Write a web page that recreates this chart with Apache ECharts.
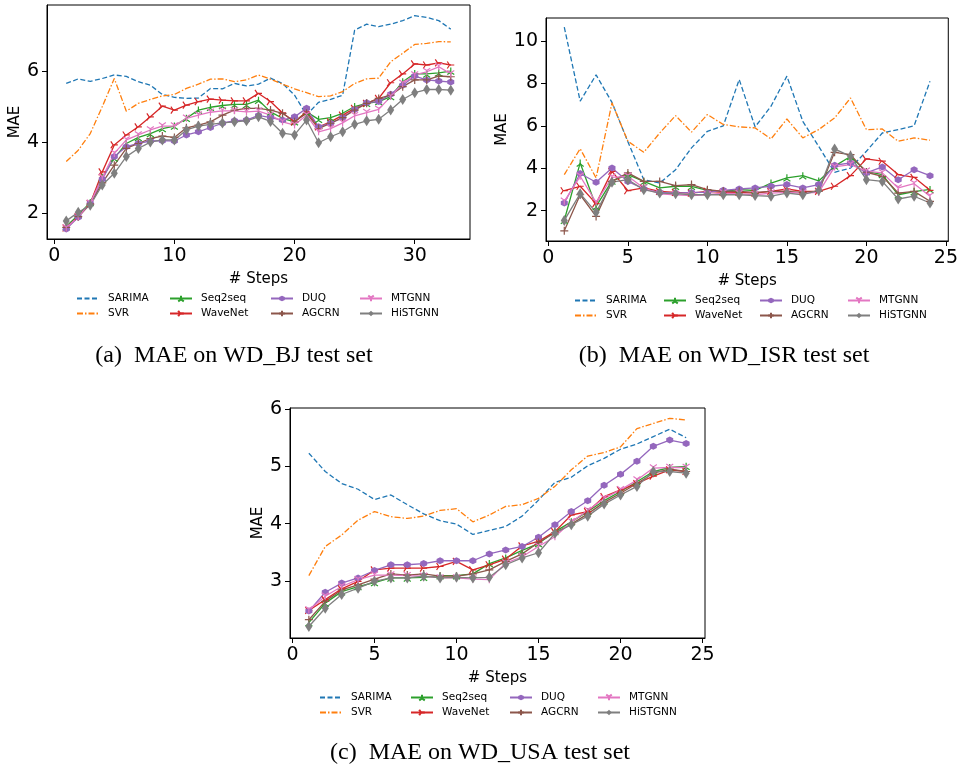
<!DOCTYPE html>
<html>
<head>
<meta charset="utf-8">
<script src="https://cdn.jsdelivr.net/npm/echarts@6/dist/echarts.min.js"></script>
<style>
  html, body { margin: 0; padding: 0; background: #fff; }
  #main { width: 961px; height: 771px; }
</style>
</head>
<body>
<div id="main"></div>
<script>
// model names and matplotlib tab10 colours
const models = ["SARIMA", "SVR", "Seq2seq", "WaveNet", "DUQ", "AGCRN", "MTGNN", "HiSTGNN"];
const colors = ["#1f77b4", "#ff7f0e", "#2ca02c", "#d62728", "#9467bd", "#8c564b", "#e377c2", "#7f7f7f"];

// (a) WD_BJ, steps 1..33
const bjSteps = [1,2,3,4,5,6,7,8,9,10,11,12,13,14,15,16,17,18,19,20,21,22,23,24,25,26,27,28,29,30,31,32,33];
const bjSarima = [5.65,5.78,5.71,5.79,5.89,5.85,5.70,5.60,5.34,5.26,5.23,5.24,5.51,5.50,5.65,5.58,5.63,5.80,5.65,5.32,4.76,5.12,5.20,5.32,7.15,7.32,7.25,7.32,7.42,7.56,7.51,7.42,7.18];
const bjSvr = [3.45,3.77,4.24,5.00,5.79,4.87,5.09,5.20,5.30,5.34,5.51,5.63,5.77,5.78,5.70,5.75,5.89,5.77,5.63,5.50,5.39,5.28,5.30,5.42,5.65,5.78,5.80,6.26,6.50,6.75,6.78,6.83,6.82];
const bjSeq2seq = [1.62,1.95,2.30,3.00,3.55,3.96,4.13,4.24,4.38,4.45,4.67,4.90,4.98,5.03,5.06,5.06,5.18,4.85,4.67,4.57,4.85,4.64,4.69,4.81,5.00,5.09,5.14,5.28,5.70,5.93,5.92,5.95,6.00];
const bjWavenet = [1.58,1.90,2.27,3.16,3.92,4.20,4.43,4.71,5.01,4.90,5.04,5.14,5.21,5.18,5.16,5.16,5.37,5.14,4.82,4.57,4.85,4.43,4.57,4.76,4.95,5.09,5.23,5.67,5.92,6.20,6.17,6.23,6.17];
const bjDuq = [1.55,1.88,2.28,2.95,3.59,3.87,3.96,4.03,4.04,4.03,4.20,4.29,4.41,4.53,4.60,4.62,4.75,4.69,4.62,4.71,4.95,4.43,4.53,4.69,4.92,5.11,5.14,5.35,5.60,5.86,5.75,5.72,5.69];
const bjAgcrn = [1.60,1.90,2.25,2.85,3.35,3.82,3.96,4.10,4.17,4.13,4.40,4.48,4.57,4.76,4.90,4.95,4.95,4.90,4.81,4.57,4.81,4.38,4.53,4.69,4.90,5.09,5.23,5.32,5.56,5.75,5.75,5.86,5.84];
const bjMtgnn = [1.58,1.90,2.28,3.00,3.68,4.06,4.20,4.34,4.45,4.45,4.67,4.76,4.84,4.88,4.88,4.85,4.87,4.76,4.57,4.48,4.76,4.29,4.38,4.54,4.74,4.83,4.92,5.28,5.65,5.89,5.98,6.12,5.92];
const bjHistgnn = [1.78,2.02,2.22,2.79,3.12,3.59,3.82,4.00,4.06,4.06,4.34,4.45,4.50,4.54,4.57,4.60,4.71,4.58,4.25,4.20,4.62,3.98,4.15,4.29,4.50,4.60,4.64,4.90,5.20,5.39,5.48,5.48,5.46];

// (b) WD_ISR, steps 1..24
const isrSteps = [1,2,3,4,5,6,7,8,9,10,11,12,13,14,15,16,17,18,19,20,21,22,23,24];
const isrSarima = [10.65,7.16,8.40,7.10,5.25,3.46,3.30,3.93,4.96,5.74,6.00,8.18,5.95,6.92,8.34,6.21,5.03,3.81,4.01,4.80,5.66,5.82,6.00,8.10];
const isrSvr = [3.70,4.92,3.54,7.08,5.27,4.75,5.66,6.48,5.70,6.53,6.06,5.95,5.90,5.38,6.32,5.43,5.82,6.37,7.31,5.82,5.85,5.27,5.43,5.32];
const isrSeq2seq = [1.55,4.25,2.20,3.40,3.70,3.38,3.07,3.15,3.15,2.96,2.91,2.99,2.95,3.30,3.55,3.65,3.40,4.10,4.55,3.85,3.70,2.75,2.90,3.00];
const isrWavenet = [2.94,3.15,2.33,3.85,2.94,3.07,2.91,2.86,2.83,2.91,2.86,2.86,2.83,2.91,3.02,2.91,2.91,3.15,3.65,4.44,4.33,3.70,3.57,2.96];
const isrDuq = [2.36,3.75,3.34,4.01,3.38,3.02,2.86,2.83,2.86,2.86,2.96,3.02,3.07,3.15,3.23,3.07,3.23,4.14,4.25,3.78,4.06,3.46,3.93,3.65];
const isrAgcrn = [1.05,2.75,1.73,3.38,3.78,3.38,3.38,3.18,3.23,2.99,2.91,2.91,2.86,2.91,2.91,2.86,2.91,4.75,4.64,3.81,3.62,2.83,2.91,2.44];
const isrMtgnn = [2.44,3.62,2.39,3.57,3.62,3.07,2.79,2.75,2.71,2.75,2.83,2.80,2.75,2.83,2.86,2.83,2.86,4.06,4.17,3.86,3.78,3.07,3.27,2.68];
const isrHistgnn = [1.54,2.80,1.92,3.34,3.46,2.99,2.83,2.80,2.75,2.75,2.75,2.75,2.71,2.68,2.83,2.75,2.96,4.91,4.56,3.46,3.38,2.55,2.68,2.36];

// (c) WD_USA, steps 1..24
const usaSteps = [1,2,3,4,5,6,7,8,9,10,11,12,13,14,15,16,17,18,19,20,21,22,23,24];
const usaSarima = [5.23,4.91,4.70,4.60,4.42,4.50,4.33,4.17,4.05,3.99,3.81,3.88,3.95,4.13,4.41,4.72,4.81,5.01,5.14,5.30,5.39,5.52,5.65,5.50];
const usaSvr = [3.09,3.60,3.80,4.06,4.21,4.12,4.09,4.13,4.23,4.26,4.03,4.15,4.30,4.33,4.44,4.65,4.94,5.18,5.24,5.34,5.66,5.75,5.84,5.81];
const usaSeq2seq = [2.27,2.61,2.81,2.90,2.97,3.05,3.05,3.06,3.09,3.09,3.12,3.30,3.40,3.53,3.65,3.86,4.03,4.21,4.40,4.56,4.73,4.91,4.98,5.00];
const usaWavenet = [2.48,2.67,2.86,2.99,3.19,3.22,3.22,3.22,3.25,3.34,3.19,3.28,3.38,3.61,3.69,3.86,4.15,4.21,4.47,4.59,4.70,4.83,4.94,4.91];
const usaDuq = [2.47,2.80,2.96,3.05,3.18,3.28,3.28,3.30,3.35,3.35,3.35,3.47,3.54,3.60,3.76,3.98,4.21,4.40,4.67,4.86,5.09,5.35,5.46,5.40];
const usaAgcrn = [2.32,2.64,2.84,2.93,3.03,3.12,3.10,3.12,3.08,3.08,3.12,3.19,3.34,3.47,3.67,3.84,3.99,4.17,4.37,4.53,4.70,4.88,4.95,4.91];
const usaMtgnn = [2.49,2.73,2.90,3.02,3.10,3.10,3.09,3.08,3.05,3.05,3.03,3.02,3.31,3.42,3.60,3.77,4.03,4.23,4.44,4.59,4.76,4.97,4.98,4.98];
const usaHistgnn = [2.20,2.52,2.76,2.87,2.99,3.05,3.05,3.08,3.05,3.06,3.05,3.06,3.28,3.40,3.49,3.83,3.98,4.13,4.34,4.50,4.65,4.91,4.91,4.88];

// tick labels
const bjXTicks = [0, 10, 20, 30];
const bjYTicks = [2, 4, 6];
const isrXTicks = [0, 5, 10, 15, 20, 25];
const isrYTicks = [2, 4, 6, 8, 10];
const usaXTicks = [0, 5, 10, 15, 20, 25];
const usaYTicks = [3, 4, 5, 6];

const captions = ["(a)  MAE on WD_BJ test set", "(b)  MAE on WD_ISR test set", "(c)  MAE on WD_USA test set"];

const datasets = [
  { steps: bjSteps, vals: [bjSarima, bjSvr, bjSeq2seq, bjWavenet, bjDuq, bjAgcrn, bjMtgnn, bjHistgnn] },
  { steps: isrSteps, vals: [isrSarima, isrSvr, isrSeq2seq, isrWavenet, isrDuq, isrAgcrn, isrMtgnn, isrHistgnn] },
  { steps: usaSteps, vals: [usaSarima, usaSvr, usaSeq2seq, usaWavenet, usaDuq, usaAgcrn, usaMtgnn, usaHistgnn] },
];

// matplotlib-like markers
const hexagon = "path://M5,0L9.33,2.5L9.33,7.5L5,10L0.67,7.5L0.67,2.5Z";
const triUp = "path://M5,5L5,0M5,5L0.67,7.5M5,5L9.33,7.5";
const triDown = "path://M5,5L5,10M5,5L0.67,2.5M5,5L9.33,2.5";
const triRight = "path://M5,5L10,5M5,5L2.5,0.67M5,5L2.5,9.33";
const plus = "path://M0,5L10,5M5,0L5,10";

const marks = [
  { symbol: "none", dash: [5, 2.5] },
  { symbol: "none", dash: [6, 2, 1.5, 2] },
  { symbol: triUp, size: 7, stroke: true },
  { symbol: triRight, size: 7, stroke: true },
  { symbol: hexagon, size: 7 },
  { symbol: plus, size: 8, stroke: true },
  { symbol: triDown, size: 7, stroke: true },
  { symbol: "diamond", size: [7, 11] },
];

const grids = [
  { left: 47, top: 5, width: 423, height: 234 },
  { left: 546, top: 18, width: 403, height: 223 },
  { left: 290, top: 408, width: 415, height: 230 },
];
const xRanges = [[-0.6, 34.6], [-0.15, 25.15], [-0.15, 25.15]];
const yRanges = [[1.27, 7.86], [0.57, 11.08], [2.0, 6.02]];
const xTicks = [bjXTicks, isrXTicks, usaXTicks];
const yTicks = [bjYTicks, isrYTicks, usaYTicks];

const font = "DejaVu Sans";

function axisBase(range, ticks) {
  return {
    type: "value",
    min: range[0],
    max: range[1],
    splitLine: { show: false },
    axisLine: { show: true, onZero: false, lineStyle: { color: "#000", width: 1 } },
    axisTick: { show: true, length: 5, customValues: ticks, lineStyle: { color: "#000" } },
    axisLabel: { customValues: ticks, color: "#000", fontSize: 19, fontFamily: font },
    nameTextStyle: { color: "#000", fontSize: 15, fontFamily: font },
  };
}

const xAxis = [], yAxis = [], series = [];
datasets.forEach((d, k) => {
  xAxis.push(Object.assign(axisBase(xRanges[k], xTicks[k]), {
    gridIndex: k, name: "# Steps", nameLocation: "middle", nameGap: 33,
  }));
  yAxis.push(Object.assign(axisBase(yRanges[k], yTicks[k]), {
    gridIndex: k, name: "MAE", nameLocation: "middle", nameGap: 22,
  }));
  d.vals.forEach((v, m) => {
    const mk = marks[m];
    series.push({
      type: "line",
      name: models[m],
      xAxisIndex: k,
      yAxisIndex: k,
      data: d.steps.map((s, i) => [s, v[i]]),
      symbol: mk.symbol,
      symbolSize: mk.size || 0,
      showSymbol: mk.symbol !== "none",
      showAllSymbol: true,
      color: colors[m],
      lineStyle: { color: colors[m], width: 1.3, type: mk.dash || "solid" },
      itemStyle: mk.stroke
        ? { color: "transparent", borderColor: colors[m], borderWidth: 1.2 }
        : { color: colors[m], borderWidth: 0 },
      emphasis: { disabled: true },
    });
  });
});

// legend: 4 columns x 2 rows under each chart; dashed baselines get no marker
const noMarker = { color: "transparent", borderColor: "transparent", borderWidth: 0 };
const legendCols = [
  [{ name: "SARIMA", itemStyle: noMarker }, { name: "SVR", itemStyle: noMarker }],
  ["Seq2seq", "WaveNet"], ["DUQ", "AGCRN"], ["MTGNN", "HiSTGNN"],
];
const legendPos = [
  { top: 293, lefts: [76, 169, 270, 359] },
  { top: 295, lefts: [574, 663, 759, 847] },
  { top: 692, lefts: [319, 410, 509, 597] },
];
const legend = [];
legendPos.forEach(p => {
  legendCols.forEach((c, i) => {
    legend.push({
      orient: "vertical", left: p.lefts[i], top: p.top, data: c,
      itemWidth: 22, itemHeight: 7, itemGap: 4, padding: 0, selectedMode: false,
      textStyle: { fontSize: 10.5, fontFamily: font, color: "#000", padding: [0, 0, 0, 4] },
    });
  });
});

const captionPos = [[234, 356], [724, 356], [480, 753]];
const graphic = captions.map((t, i) => ({
  type: "text", x: captionPos[i][0], y: captionPos[i][1],
  style: { text: t, fill: "#000", font: '24px "Liberation Serif"', textAlign: "center", textVerticalAlign: "middle" },
}));

const chart = echarts.init(document.getElementById("main"));
chart.setOption({
  animation: false,
  backgroundColor: "#fff",
  grid: grids.map(g => Object.assign({ show: true, borderColor: "#000", borderWidth: 1, backgroundColor: "transparent" }, g)),
  xAxis, yAxis, series, legend, graphic,
});
</script>
</body>
</html>
